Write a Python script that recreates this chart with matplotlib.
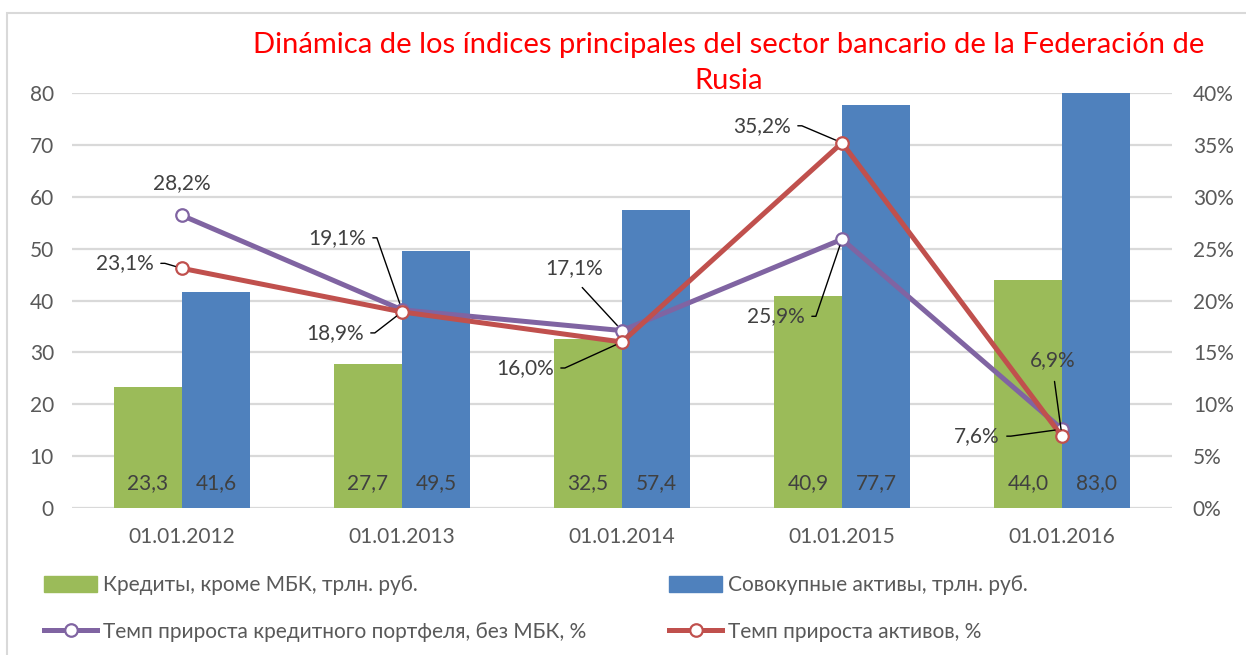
import numpy as np
import matplotlib
matplotlib.use("Agg")
import matplotlib.pyplot as plt
from matplotlib.patches import Rectangle, Patch
from matplotlib.lines import Line2D
from matplotlib.ticker import FuncFormatter, MultipleLocator

plt.rcParams['font.family'] = ['Lato', 'DejaVu Sans']

dates = ['01.01.2012', '01.01.2013', '01.01.2014', '01.01.2015', '01.01.2016']
credits = [23.3, 27.7, 32.5, 40.9, 44.0]
assets = [41.6, 49.5, 57.4, 77.7, 83.0]
credit_growth = [28.2, 19.1, 17.1, 25.9, 7.6]
asset_growth = [23.1, 18.9, 16.0, 35.2, 6.9]

title_lines = ['Dinámica de los índices principales del sector bancario de la Federación de',
               'Rusia']
lbl_credits = 'Кредиты, кроме МБК, трлн. руб.'
lbl_assets = 'Совокупные активы, трлн. руб.'
lbl_cgrowth = 'Темп прироста кредитного портфеля, без МБК, %'
lbl_agrowth = 'Темп прироста активов, %'

GREEN = '#9BBB59'
BLUE = '#4F81BD'
PURPLE = '#8064A2'
RED = '#C0504D'
GRID = '#D9D9D9'
TICK = '#595959'
LABEL = '#404040'
FS = 15

def comma(v, digits=1):
    return f"{v:.{digits}f}".replace('.', ',')

fig = plt.figure(figsize=(12.46, 6.55), dpi=100)
ax = fig.add_axes([72/1246, 1 - 508/655, 1100/1246, 415/655])
ax2 = ax.twinx()

x = np.arange(len(dates))
w = 0.31
ax.bar(x - w/2, credits, w, color=GREEN, zorder=2)
ax.bar(x + w/2, assets, w, color=BLUE, zorder=2)

for xi, v in zip(x - w/2, credits):
    ax.annotate(comma(v), (xi, 0), xytext=(0, 25), textcoords='offset pixels',
                ha='center', va='center', fontsize=FS, color=LABEL)
for xi, v in zip(x + w/2, assets):
    ax.annotate(comma(v), (xi, 0), xytext=(0, 25), textcoords='offset pixels',
                ha='center', va='center', fontsize=FS, color=LABEL)

ax.set_xlim(-0.5, len(dates) - 0.5)
ax.set_ylim(0, 80)
ax.yaxis.set_major_locator(MultipleLocator(10))
ax.set_xticks(x)
ax.set_xticklabels(dates)
ax.grid(axis='y', color=GRID, lw=1.6)
ax.set_axisbelow(True)
ax.tick_params(axis='both', length=0, labelsize=FS, labelcolor=TICK)
ax.tick_params(axis='y', pad=13)
ax.tick_params(axis='x', pad=14)
for s in ax.spines.values():
    s.set_visible(False)

cg = np.array(credit_growth) / 100
ag = np.array(asset_growth) / 100
mk = dict(marker='o', markersize=9, markerfacecolor='white', markeredgewidth=1.6)
ax2.plot(x, cg, color=PURPLE, lw=3.6, markeredgecolor=PURPLE, zorder=3, **mk)
ax2.plot(x, ag, color=RED, lw=3.6, markeredgecolor=RED, zorder=4, **mk)
ax2.set_ylim(0, 0.40)
ax2.yaxis.set_major_locator(MultipleLocator(0.05))
ax2.yaxis.set_major_formatter(FuncFormatter(lambda v, p: f"{v*100:.0f}%"))
ax2.tick_params(axis='y', length=0, labelsize=FS, labelcolor=TICK, pad=15)
for s in ax2.spines.values():
    s.set_visible(False)

# label offsets (pixels) and leader style for each point
cg_off = [(0, 32, None), (-65, 72, 'arm'), (-48, 62, 'down'), (-66, -77, 'arm'), (-85, -7, 'arm')]
ag_off = [(-57, 5, 'arm'), (-67, -21, 'arm'), (-97, -26, 'arm'), (-80, 17, 'arm'), (-9, 76, 'down')]

def label(xi, yv, off):
    dx, dy, kind = off
    kw = dict(xytext=(dx, dy), textcoords='offset pixels', ha='center', va='center',
              fontsize=FS, color=LABEL, zorder=6)
    if kind == 'arm':
        kw['arrowprops'] = dict(arrowstyle='-', color='black', lw=1, shrinkA=3, shrinkB=5,
                                relpos=(1, 0.5),
                                connectionstyle='arc,angleA=0,armA=11,angleB=0,armB=0,rad=0')
    elif kind == 'down':
        kw['arrowprops'] = dict(arrowstyle='-', color='black', lw=1, shrinkA=6, shrinkB=5,
                                relpos=(0.5, 0))
    ax2.annotate(comma(yv) + '%', (xi, yv / 100), **kw)

for xi, v, o in zip(x, credit_growth, cg_off):
    label(xi, v, o)
for xi, v, o in zip(x, asset_growth, ag_off):
    label(xi, v, o)

# two-line title, each line centred
for line, ypx in zip(title_lines, [45, 81]):
    fig.text(729/1246, 1 - ypx/655, line, ha='center', va='center',
             fontsize=21, color='#FF0000')

# outer chart frame
fig.add_artist(Rectangle((7/1246, -0.05), 1.1, 1.05 - 13/655, transform=fig.transFigure,
                         fill=False, ec=GRID, lw=1.5))

h_green = Patch(color=GREEN)
h_blue = Patch(color=BLUE)
h_purple = Line2D([], [], color=PURPLE, lw=3.6, markeredgecolor=PURPLE, **mk)
h_red = Line2D([], [], color=RED, lw=3.6, markeredgecolor=RED, **mk)
legkw = dict(loc='upper left', frameon=False, fontsize=FS, labelcolor=TICK, borderpad=0,
             borderaxespad=0, handlelength=2.55, handleheight=0.8, handletextpad=0.3,
             labelspacing=1.3)
fig.legend([h_green, h_purple], [lbl_credits, lbl_cgrowth],
           bbox_to_anchor=(44/1246, 1 - 575/655), **legkw)
fig.legend([h_blue, h_red], [lbl_assets, lbl_agrowth],
           bbox_to_anchor=(669/1246, 1 - 575/655), **legkw)

fig.savefig('out.png', dpi=100)
